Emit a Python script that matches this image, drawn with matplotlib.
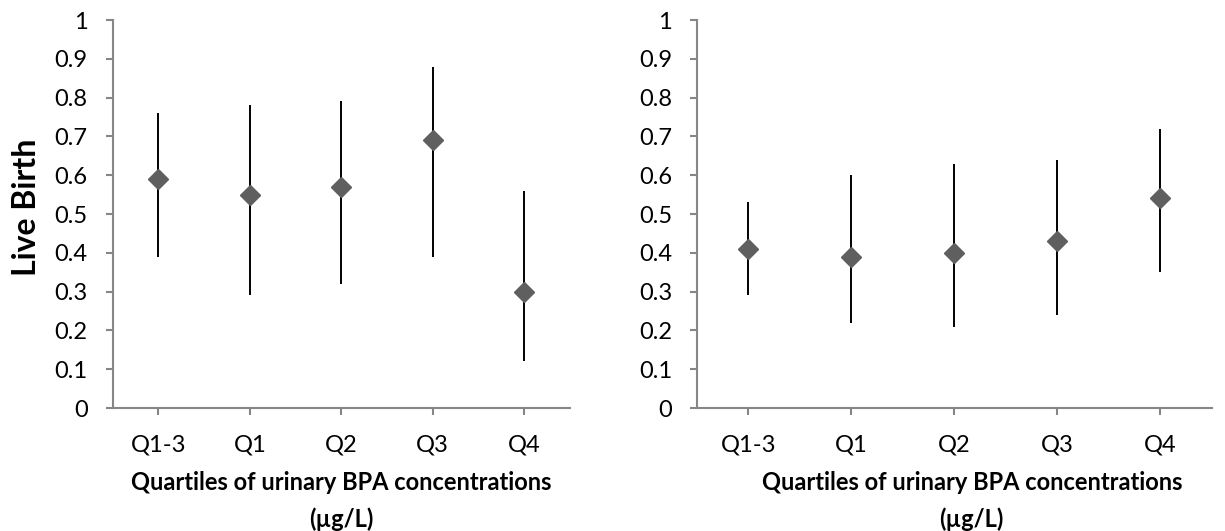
import numpy as np
import matplotlib.pyplot as plt

plt.rcParams['font.family'] = ['Lato', 'DejaVu Sans']

categories = ["Q1-3", "Q1", "Q2", "Q3", "Q4"]

# left panel: estimate with lower / upper limits
left_est = [0.59, 0.55, 0.57, 0.69, 0.30]
left_low = [0.39, 0.29, 0.32, 0.39, 0.12]
left_high = [0.76, 0.78, 0.79, 0.88, 0.56]

# right panel
right_est = [0.41, 0.39, 0.40, 0.43, 0.54]
right_low = [0.29, 0.22, 0.21, 0.24, 0.35]
right_high = [0.53, 0.60, 0.63, 0.64, 0.72]

fig = plt.figure(figsize=(12.25, 5.31), dpi=100)
ax1 = fig.add_axes([0.092, 0.2316, 0.373, 0.7307])
ax2 = fig.add_axes([0.569, 0.2316, 0.420, 0.7307])

axcol = "#868686"

def draw(ax, est, low, high, labelx):
    x = np.arange(len(categories))
    est = np.array(est)
    err = [est - np.array(low), np.array(high) - est]
    ax.errorbar(x, est, yerr=err, fmt='none', ecolor='black', elinewidth=1.4, capsize=0, zorder=2)
    ax.plot(x, est, linestyle='none', marker='D', markersize=10.5, color='#5f5f5f', zorder=3)
    ax.set_xlim(-0.5, len(categories) - 0.5)
    ax.set_ylim(0, 1)
    ax.set_yticks(np.arange(0, 1.01, 0.1))
    ax.set_yticklabels(["0", "0.1", "0.2", "0.3", "0.4", "0.5", "0.6", "0.7", "0.8", "0.9", "1"])
    ax.set_xticks(x)
    ax.set_xticklabels(categories)
    for s in ['top', 'right']:
        ax.spines[s].set_visible(False)
    for s in ['left', 'bottom']:
        ax.spines[s].set_color(axcol)
        ax.spines[s].set_linewidth(1.5)
    ax.tick_params(axis='y', direction='out', length=5, width=1.5, color=axcol, labelsize=17, pad=13)
    ax.tick_params(axis='x', direction='out', length=5, width=1.5, color=axcol, labelsize=17, pad=14)
    ax.set_xlabel("Quartiles of urinary BPA concentrations\n(µg/L)", fontsize=17, fontweight='bold',
                  labelpad=11, linespacing=1.7)
    ax.xaxis.label.set_x(labelx)

draw(ax1, left_est, left_low, left_high, 0.5)
draw(ax2, right_est, right_low, right_high, 0.534)
ax1.set_ylabel("Live Birth", fontsize=23, fontweight='bold')
ax1.yaxis.set_label_coords(-0.158, 0.518)

fig.savefig("out.png", dpi=100)
